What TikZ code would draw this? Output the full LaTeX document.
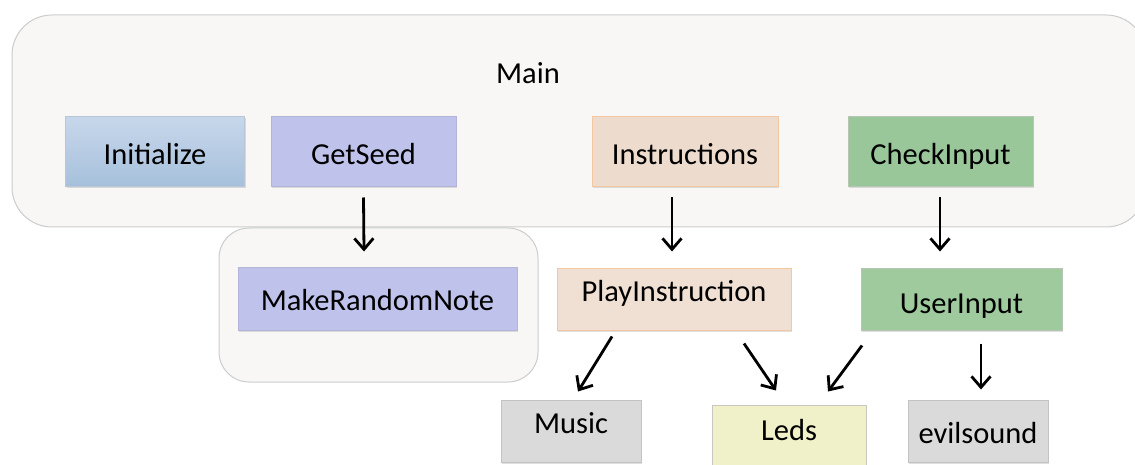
\documentclass[tikz,border=0pt]{standalone}
\usepackage{fontspec}
\setmainfont{Carlito}
\usetikzlibrary{arrows.meta,calc,shadows}
\definecolor{contfill}{HTML}{F8F7F6}
\definecolor{contdraw}{HTML}{CCCCCC}
\definecolor{inittop}{HTML}{C7D7EB}
\definecolor{initbot}{HTML}{A6C0DB}
\definecolor{initdraw}{HTML}{B8C6D6}
\definecolor{seedfill}{HTML}{BFC3EC}
\definecolor{seeddraw}{HTML}{B2B5D8}
\definecolor{instfill}{HTML}{EDDBCD}
\definecolor{instdraw}{HTML}{F3C7A0}
\definecolor{checkfill}{HTML}{99C799}
\definecolor{checkdraw}{HTML}{B5C7B4}
\definecolor{greyfill}{HTML}{DADADA}
\definecolor{greydraw}{HTML}{C3C3C3}
\definecolor{ledfill}{HTML}{F0F0C9}
\definecolor{leddraw}{HTML}{C8C8C0}
\tikzset{
  box/.style={rectangle, draw, line width=1pt, inner sep=0pt, font=\fontsize{30.5}{36}\selectfont,
    drop shadow={shadow xshift=1pt, shadow yshift=-1.5pt, opacity=0.25}},
  cont/.style={draw=contdraw, fill=contfill, line width=1pt},
  arr/.style={-{Straight Barb[length=11pt,width=19pt,line width=2.8pt]}, line width=2.8pt}
}
\begin{document}
\begin{tikzpicture}[x=1pt,y=-1pt]
\useasboundingbox (0,0) rectangle (1135,465);
\begin{scope}
\clip (0,0) rectangle (1135,465);
\fill[white] (0,0) rectangle (1135,465);
\draw[cont, rounded corners=40pt] (12,15) rectangle (1146,227);
\draw[cont, rounded corners=30pt] (219,228) rectangle (538,382);
\node[font=\fontsize{30.5}{36}\selectfont] (main) at (528,73) {Main};

\node[box, draw=initdraw, top color=inittop, bottom color=initbot, minimum width=179pt, minimum height=70pt, text height=25pt] (init) at (155,152) {Initialize};
\node[box, draw=seeddraw, fill=seedfill, minimum width=185pt, minimum height=70pt, text height=25pt] (seed) at (363.5,152) {GetSeed};
\node[box, draw=instdraw, fill=instfill, minimum width=186pt, minimum height=70pt, text height=25pt] (inst) at (685,152) {Instructions};
\node[box, draw=checkdraw, fill=checkfill, minimum width=185pt, minimum height=70pt, text height=30pt] (check) at (940.5,152) {CheckInput};

\node[box, draw=seeddraw, fill=seedfill, minimum width=279pt, minimum height=63pt, text height=25pt] (rand) at (377.5,298.5) {MakeRandomNote};
\node[box, draw=instdraw, fill=instfill!85!white, minimum width=234pt, minimum height=62pt, text depth=16pt] (play) at (674,299) {PlayInstruction};
\node[box, draw=checkdraw, fill=checkfill!95!white, minimum width=201pt, minimum height=62pt, text height=33pt] (user) at (961.5,299) {UserInput};

\node[box, draw=greydraw, fill=greyfill, minimum width=140pt, minimum height=62pt, text depth=16pt] (music) at (571,431) {Music};
\node[box, draw=leddraw, fill=ledfill, minimum width=154pt, minimum height=62pt, text depth=12pt] (leds) at (789,436) {Leds};
\node[box, draw=greydraw, fill=greyfill, minimum width=140pt, minimum height=62pt, text height=25pt] (evil) at (978,431) {evilsound};
\end{scope}

\draw[arr] ($(seed.south)+(0,10)$) -- ($(rand.north)+(-13.5,-15)$);
\draw[arr] ($(inst.south)+(-13,10)$) -- ($(play.north)+(-2,-16)$);
\draw[arr] ($(check.south)+(-0.5,10)$) -- ($(user.north)+(-21.5,-16)$);
\draw[arr] ($(play.south)+(-62,6)$) -- ($(music.north)+(7,-8)$);
\draw[arr] ($(play.south)+(70,13)$) -- ($(leds.north)+(-13,-14)$);
\draw[arr] ($(user.south)+(-99.5,15)$) -- ($(leds.north)+(39,-13)$);
\draw[arr] ($(user.south)+(19.5,13)$) -- ($(evil.north)+(3,-10)$);
\end{tikzpicture}
\end{document}
